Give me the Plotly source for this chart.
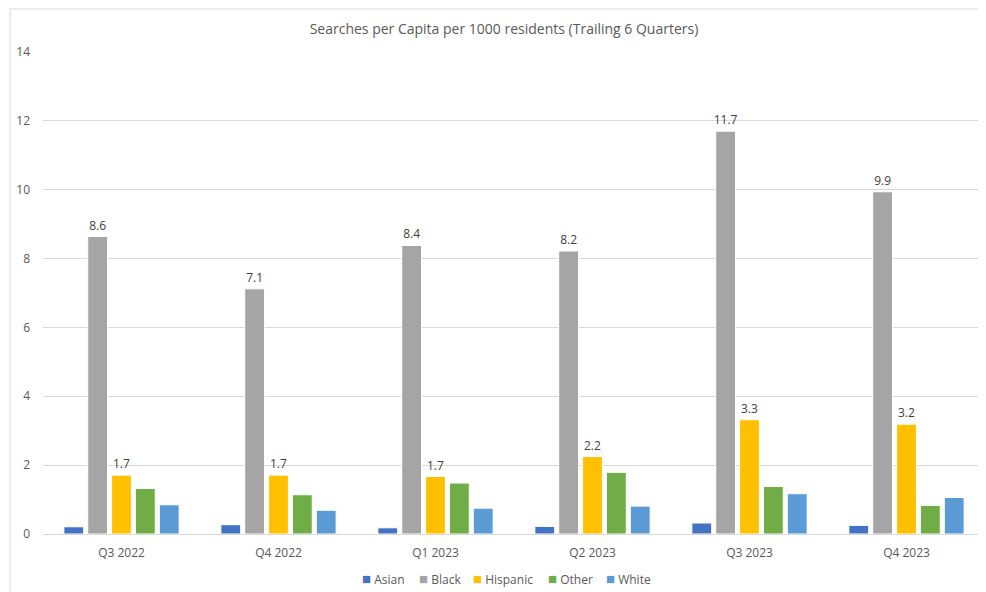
import plotly.graph_objects as go

# Searches per capita per 1000 residents, trailing 6 quarters
quarters = ['Q3 2022', 'Q4 2022', 'Q1 2023', 'Q2 2023', 'Q3 2023', 'Q4 2023']
asian = [0.21, 0.27, 0.18, 0.22, 0.32, 0.25]
black = [8.64, 7.12, 8.38, 8.22, 11.70, 9.94]
hispanic = [1.71, 1.71, 1.67, 2.25, 3.32, 3.19]
other = [1.32, 1.14, 1.48, 1.79, 1.38, 0.83]
white = [0.85, 0.69, 0.75, 0.81, 1.17, 1.06]

series = [
    ('Asian', asian, '#4472C4', False),
    ('Black', black, '#A5A5A5', True),
    ('Hispanic', hispanic, '#FFC000', True),
    ('Other', other, '#70AD47', False),
    ('White', white, '#5B9BD5', False),
]

# the page body has an 8px margin, so the figure is sized to the rest of the window
OFF = 8
W, H = 986 - OFF, 592 - OFF
L, R, T, B = 43 - OFF, 1, 52 - OFF, 58
pw, ph = W - L - R, H - T - B


def px_x(px):
    return (px - OFF - L) / pw


def px_y(py):
    return (T + ph - (py - OFF)) / ph


fig = go.Figure()
for name, vals, color, labelled in series:
    fig.add_trace(go.Bar(
        x=quarters,
        y=vals,
        name=name,
        marker=dict(color=color, line=dict(color='white', width=1)),
        text=[f'{v:.1f}' for v in vals] if labelled else None,
        textposition='outside' if labelled else 'none',
        textfont=dict(size=12, color='#404040'),
        constraintext='none',
        cliponaxis=False,
        showlegend=False,
    ))

# light chart border like the spreadsheet frame
fig.add_shape(
    type='rect', xref='paper', yref='paper',
    x0=px_x(10), x1=px_x(992), y0=px_y(600), y1=px_y(9),
    line=dict(color='#D9D9D9', width=1), fillcolor='rgba(0,0,0,0)', layer='below',
)

# legend drawn as text items below the plot, Excel style
legend_x = [383, 440, 503, 570, 628]
for (name, vals, color, labelled), px in zip(series, legend_x):
    fig.add_annotation(
        x=px_x(px), y=px_y(578), xref='paper', yref='paper',
        xanchor='center', yanchor='middle', showarrow=False,
        text=f"<span style='color:{color};font-size:15px'>■</span> {name}",
        font=dict(size=12, color='#595959'),
    )

fig.update_layout(
    width=W, height=H,
    margin=dict(l=L, r=R, t=T, b=B, autoexpand=False),
    title=dict(
        text='Searches per Capita per 1000 residents (Trailing 6 Quarters)',
        x=px_x(504), xanchor='center', y=(H - (29 - OFF)) / H, yanchor='middle',
        xref='paper', font=dict(size=14, color='#595959'),
    ),
    font=dict(family='Open Sans, Noto Sans, sans-serif', size=12, color='#595959'),
    plot_bgcolor='white',
    paper_bgcolor='white',
    barmode='group',
    bargap=0.24,
    bargroupgap=0.17,
    showlegend=False,
)

fig.update_xaxes(
    showgrid=False, showline=True, linecolor='#D9D9D9', linewidth=1,
    ticks='', ticklabelstandoff=8,
    tickfont=dict(size=12, color='#595959'), automargin=False,
)
fig.update_yaxes(
    range=[0, 14], dtick=2, showgrid=True, gridcolor='#D9D9D9', gridwidth=1,
    zeroline=False, showline=False, ticks='', ticklabelstandoff=12,
    tickfont=dict(size=12, color='#595959'), automargin=False,
)

fig.write_html('out.html')
